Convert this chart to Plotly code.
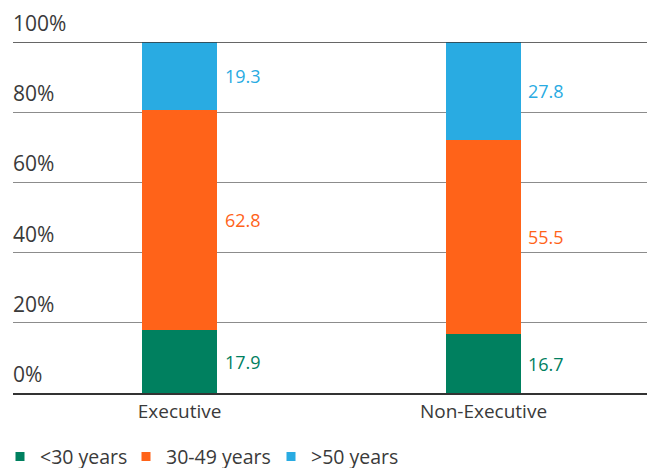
import plotly.graph_objects as go

categories = ["Executive", "Non-Executive"]
series_names = ["<30 years", "30-49 years", ">50 years"]
under30 = [17.9, 16.7]
age30_49 = [62.8, 55.5]
over50 = [19.3, 27.8]
y_ticks = [0, 20, 40, 60, 80, 100]
colors = ["#00805F", "#FF6319", "#29ABE2"]

series = [under30, age30_49, over50]
FONT = "Open Sans"
legend_ids = ["legend", "legend2", "legend3"]
legend_left_px = [0, 126, 271]

fig = go.Figure()
for name, vals, col in zip(series_names, series, colors):
    fig.add_trace(go.Bar(x=categories, y=vals, name=name, marker=dict(color=col, line=dict(width=0)),
                         width=0.247, showlegend=False, hoverinfo="skip"))
for name, col, lid in zip(series_names, colors, legend_ids):
    # legend proxy with small square
    fig.add_trace(go.Scatter(x=[None], y=[None], mode="markers", name=name, legend=lid,
                             marker=dict(symbol="square", size=9, color=col)))

annotations = []
for ci, cat in enumerate(categories):
    base = 0
    for vals, col in zip(series, colors):
        v = vals[ci]
        annotations.append(dict(x=cat, y=base + v / 2, xref="x", yref="y", text=f"{v}",
                                showarrow=False, xanchor="left", xshift=43,
                                font=dict(family=FONT, size=18, color=col)))
        base += v

for t in y_ticks:
    annotations.append(dict(x=0, y=t, xref="paper", yref="y", text=f"{t}%", showarrow=False,
                            xanchor="left", yanchor="bottom", yshift=3, xshift=-2,
                            font=dict(family=FONT, size=21, color="#3a3a3a")))

legend_common = dict(orientation="h", xanchor="left", xref="container", yref="container",
                     y=0.024, yanchor="middle", bgcolor="rgba(0,0,0,0)",
                     font=dict(family=FONT, size=19.5, color="#3a3a3a"), itemclick=False)

fig.update_layout(
    barmode="stack",
    width=647, height=468,
    margin=dict(l=13, r=0, t=42, b=75),
    plot_bgcolor="white", paper_bgcolor="white",
    font=dict(family=FONT, size=18, color="#3a3a3a"),
    annotations=annotations,
    shapes=[dict(type="line", xref="paper", yref="y", x0=0, x1=1, y0=100, y1=100,
                 line=dict(color="#333333", width=1.5))],
    xaxis=dict(range=[-0.548, 1.538], showline=True, linecolor="#333333", linewidth=2,
               ticks="", showgrid=False, tickfont=dict(size=19, family=FONT, color="#3a3a3a")),
    yaxis=dict(range=[0, 100], tickvals=y_ticks, showticklabels=False, showgrid=True,
               gridcolor="#8c8c8c", gridwidth=1, zeroline=False),
    legend=dict(x=legend_left_px[0] / 647, **legend_common),
    legend2=dict(x=legend_left_px[1] / 647, **legend_common),
    legend3=dict(x=legend_left_px[2] / 647, **legend_common),
)

fig.write_html("out.html")
